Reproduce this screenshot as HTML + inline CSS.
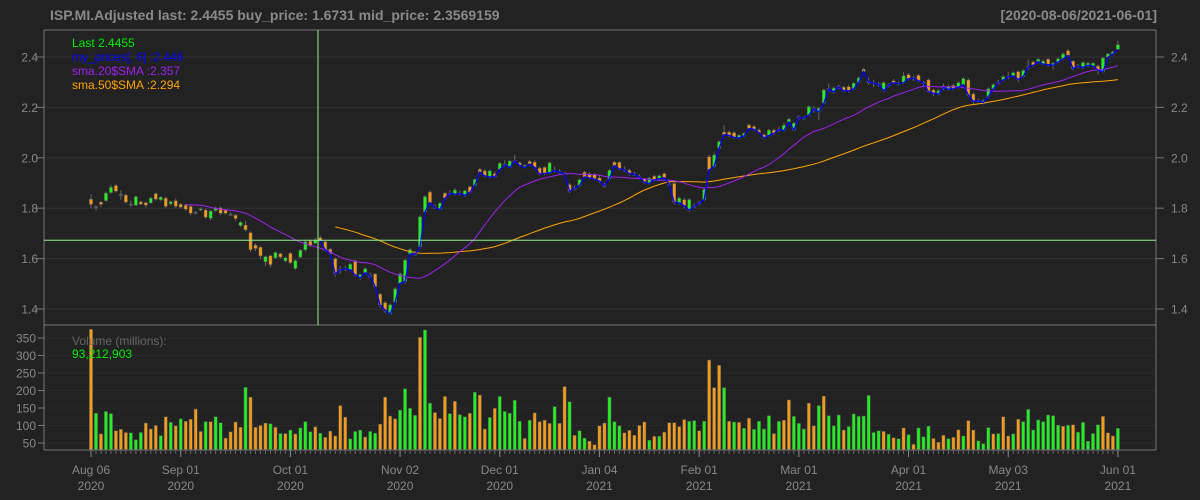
<!DOCTYPE html>
<html><head><meta charset="utf-8"><style>
html,body{margin:0;padding:0;background:#222222;}
svg{display:block;font-family:"Liberation Sans",sans-serif;}
</style></head><body>
<svg id="chart" width="1200" height="500" viewBox="0 0 1200 500">
<rect x="0" y="0" width="1200" height="500" fill="#222222"/>
<text x="50" y="20" fill="#8a8a8a" font-size="14" font-weight="bold">ISP.MI.Adjusted last: 2.4455 buy_price: 1.6731 mid_price: 2.3569159</text>
<text x="1157" y="20" fill="#8a8a8a" font-size="14" font-weight="bold" text-anchor="end">[2020-08-06/2021-06-01]</text>
<g id="grid"></g>
<g id="marks"></g>
<rect x="44" y="30" width="1112" height="295" fill="none" stroke="#777" stroke-width="1"/>
<rect x="44" y="325" width="1112" height="125" fill="none" stroke="#777" stroke-width="1"/>
<g id="axes"></g>
<line x1="318" y1="30" x2="318" y2="325" stroke="#90ee90" stroke-width="1"/>
<line x1="44" y1="240.3" x2="1156" y2="240.3" stroke="#90ee90" stroke-width="1"/>
<text x="72" y="47" fill="#00ee00" font-size="12">Last 2.4455</text>
<text x="72" y="61" fill="#0000ff" font-size="12">my_prices[, 6] :2.446</text>
<text x="72" y="75" fill="#a020f0" font-size="12">sma.20$SMA :2.357</text>
<text x="72" y="89" fill="#ffa500" font-size="12">sma.50$SMA :2.294</text>
<text x="72" y="345" fill="#666" font-size="12">Volume (millions):</text>
<text x="72" y="358" fill="#00ee00" font-size="12">93,212,903</text>
</svg>
<script>
const opens=[1.836,1.804,1.824,1.830,1.862,1.890,1.855,1.852,1.817,1.812,1.825,1.822,1.821,1.858,1.833,1.840,1.817,1.830,1.816,1.812,1.807,1.784,1.795,1.793,1.760,1.791,1.801,1.792,1.776,1.772,1.731,1.733,1.703,1.653,1.645,1.587,1.611,1.603,1.619,1.591,1.621,1.561,1.606,1.635,1.669,1.661,1.683,1.667,1.637,1.600,1.558,1.559,1.555,1.591,1.524,1.544,1.532,1.539,1.459,1.425,1.380,1.427,1.502,1.508,1.618,1.619,1.647,1.786,1.864,1.804,1.795,1.859,1.858,1.856,1.860,1.851,1.885,1.890,1.954,1.948,1.924,1.937,1.954,1.972,1.962,1.989,1.980,1.962,1.986,1.983,1.959,1.962,1.940,1.951,1.945,1.936,1.894,1.879,1.890,1.943,1.937,1.933,1.920,1.889,1.916,1.982,1.982,1.954,1.950,1.934,1.925,1.916,1.898,1.927,1.917,1.937,1.896,1.898,1.821,1.834,1.792,1.809,1.820,1.834,2.004,1.965,2.038,2.102,2.102,2.100,2.079,2.087,2.130,2.124,2.110,2.091,2.089,2.110,2.112,2.108,2.142,2.110,2.160,2.157,2.169,2.194,2.182,2.216,2.273,2.262,2.281,2.280,2.282,2.274,2.300,2.351,2.303,2.299,2.294,2.266,2.290,2.306,2.296,2.298,2.330,2.316,2.327,2.299,2.309,2.269,2.253,2.279,2.272,2.287,2.280,2.290,2.309,2.253,2.228,2.219,2.243,2.274,2.297,2.309,2.321,2.325,2.342,2.322,2.361,2.380,2.381,2.372,2.391,2.367,2.380,2.393,2.425,2.383,2.363,2.359,2.367,2.364,2.364,2.341,2.399,2.412,2.430];
const closes=[1.815,1.807,1.815,1.860,1.883,1.867,1.853,1.824,1.815,1.846,1.816,1.812,1.840,1.836,1.844,1.807,1.826,1.807,1.804,1.796,1.780,1.782,1.798,1.764,1.789,1.801,1.780,1.780,1.774,1.759,1.744,1.714,1.635,1.640,1.611,1.608,1.576,1.624,1.606,1.603,1.584,1.592,1.633,1.667,1.651,1.674,1.670,1.634,1.618,1.539,1.556,1.561,1.578,1.535,1.536,1.560,1.530,1.489,1.415,1.396,1.417,1.480,1.539,1.594,1.636,1.617,1.766,1.846,1.822,1.802,1.819,1.840,1.860,1.872,1.858,1.869,1.863,1.914,1.943,1.928,1.948,1.925,1.978,1.974,1.987,1.987,1.970,1.970,1.975,1.962,1.935,1.938,1.980,1.949,1.943,1.938,1.867,1.881,1.913,1.924,1.920,1.916,1.907,1.891,1.950,1.969,1.956,1.952,1.937,1.936,1.923,1.903,1.919,1.913,1.929,1.921,1.894,1.823,1.840,1.810,1.834,1.807,1.822,1.874,1.952,2.011,2.064,2.092,2.089,2.081,2.089,2.097,2.116,2.113,2.100,2.079,2.110,2.097,2.114,2.129,2.153,2.137,2.162,2.159,2.203,2.196,2.196,2.269,2.275,2.276,2.283,2.266,2.266,2.296,2.317,2.342,2.301,2.297,2.292,2.298,2.288,2.298,2.294,2.325,2.314,2.318,2.306,2.297,2.262,2.256,2.266,2.281,2.282,2.274,2.298,2.314,2.249,2.224,2.226,2.227,2.274,2.290,2.299,2.322,2.323,2.338,2.311,2.346,2.363,2.367,2.391,2.383,2.370,2.375,2.393,2.412,2.406,2.354,2.365,2.378,2.375,2.375,2.348,2.396,2.412,2.420,2.449];
const highs=[1.855,1.812,1.828,1.865,1.893,1.895,1.872,1.857,1.830,1.850,1.830,1.826,1.845,1.862,1.848,1.846,1.830,1.838,1.820,1.818,1.815,1.790,1.803,1.798,1.792,1.806,1.806,1.797,1.784,1.776,1.748,1.750,1.708,1.660,1.650,1.612,1.616,1.628,1.624,1.608,1.626,1.597,1.638,1.672,1.676,1.682,1.690,1.672,1.642,1.604,1.570,1.572,1.585,1.596,1.540,1.565,1.545,1.542,1.464,1.432,1.422,1.485,1.545,1.600,1.642,1.630,1.772,1.852,1.870,1.815,1.825,1.866,1.872,1.880,1.870,1.874,1.890,1.918,1.960,1.955,1.953,1.945,1.984,1.990,1.992,2.012,1.986,1.975,1.992,1.990,1.965,1.966,1.985,1.965,1.955,1.944,1.900,1.890,1.918,1.948,1.942,1.938,1.930,1.902,1.955,1.988,1.986,1.965,1.956,1.945,1.935,1.920,1.924,1.932,1.934,1.942,1.905,1.902,1.846,1.840,1.840,1.818,1.830,1.880,2.012,2.020,2.070,2.130,2.108,2.106,2.094,2.102,2.136,2.130,2.116,2.096,2.115,2.116,2.125,2.140,2.160,2.142,2.168,2.165,2.208,2.205,2.202,2.274,2.295,2.283,2.290,2.285,2.290,2.302,2.322,2.357,2.318,2.310,2.300,2.304,2.296,2.312,2.302,2.340,2.336,2.325,2.333,2.305,2.314,2.275,2.272,2.295,2.290,2.294,2.304,2.320,2.315,2.260,2.235,2.232,2.280,2.296,2.310,2.328,2.340,2.343,2.346,2.352,2.390,2.385,2.396,2.390,2.396,2.380,2.398,2.418,2.432,2.388,2.372,2.383,2.380,2.380,2.370,2.400,2.416,2.425,2.465];
const lows=[1.800,1.790,1.805,1.826,1.858,1.862,1.833,1.818,1.805,1.808,1.812,1.803,1.818,1.830,1.828,1.800,1.810,1.800,1.798,1.790,1.772,1.775,1.788,1.758,1.752,1.786,1.772,1.775,1.768,1.750,1.725,1.708,1.625,1.630,1.598,1.570,1.565,1.598,1.600,1.586,1.578,1.555,1.600,1.628,1.646,1.656,1.665,1.628,1.612,1.528,1.540,1.550,1.550,1.528,1.515,1.538,1.522,1.480,1.405,1.385,1.378,1.420,1.495,1.500,1.612,1.610,1.640,1.778,1.815,1.795,1.790,1.835,1.850,1.850,1.850,1.845,1.858,1.885,1.936,1.922,1.918,1.920,1.950,1.965,1.958,1.980,1.965,1.958,1.970,1.956,1.930,1.932,1.935,1.942,1.938,1.930,1.860,1.870,1.885,1.918,1.915,1.910,1.900,1.880,1.910,1.962,1.950,1.945,1.930,1.928,1.915,1.897,1.893,1.907,1.912,1.916,1.885,1.815,1.815,1.800,1.786,1.800,1.812,1.828,1.945,1.958,2.032,2.085,2.082,2.076,2.074,2.082,2.110,2.108,2.094,2.074,2.084,2.090,2.102,2.104,2.146,2.104,2.150,2.150,2.165,2.180,2.150,2.210,2.260,2.255,2.272,2.260,2.258,2.268,2.294,2.336,2.290,2.280,2.282,2.260,2.280,2.292,2.287,2.292,2.308,2.305,2.300,2.285,2.256,2.245,2.248,2.270,2.266,2.268,2.275,2.285,2.242,2.212,2.220,2.212,2.238,2.268,2.290,2.304,2.312,2.320,2.300,2.316,2.350,2.360,2.375,2.368,2.362,2.350,2.375,2.388,2.400,2.345,2.355,2.352,2.360,2.358,2.330,2.335,2.394,2.408,2.426];
const volumes=[375,135,76,140,134,85,89,80,79,59,80,107,90,100,71,125,109,99,119,112,118,147,83,111,111,125,108,64,82,110,95,209,181,95,100,107,105,95,77,77,87,76,93,111,82,96,78,66,84,70,157,124,62,83,87,67,83,78,104,181,127,119,144,205,149,129,352,373,164,137,120,183,134,169,131,125,135,195,187,90,123,149,183,140,135,172,112,63,115,136,111,115,106,154,106,211,168,72,85,64,55,45,99,107,181,111,99,79,86,72,100,110,58,69,69,81,108,108,97,117,112,114,85,112,287,208,272,208,112,110,109,92,121,89,112,90,128,77,112,115,173,126,106,90,164,99,157,184,128,99,130,87,97,133,126,127,186,80,85,83,75,65,62,93,74,46,93,68,98,63,52,72,62,66,88,70,114,87,56,48,94,76,77,125,70,76,118,111,146,87,116,111,130,128,101,98,101,102,81,109,55,77,102,126,79,70,92];
const volumeDirection="ogoggooogggooogogogoooogoggoooogoooogogogogggogooooogggoggooooggggoggooogoggogoogogggggogoooogoogoggoooogggooooogogoooooggogooogogogoggggogoogggoogogggogggggggogogogogggooogoogoogggogoogoggggggggogogggggooogogooggggg";
const xLabels=["Aug 06","Sep 01","Oct 01","Nov 02","Dec 01","Jan 04","Feb 01","Mar 01","Apr 01","May 03","Jun 01"];
const xLabelYears=["2020","2020","2020","2020","2020","2021","2021","2021","2021","2021","2021"];
const xLabelBars=[0,18,40,62,82,102,122,142,164,184,206];
const priceTicks=[1.4,1.6,1.8,2.0,2.2,2.4];
const volumeTicks=[50,100,150,200,250,300,350];

const NS="http://www.w3.org/2000/svg";
const X0=91, DX=4.985;
function xPos(i){return X0+DX*i;}
function yPrice(p){return 309-(p-1.4)*252;}
function yVol(v){return 443-(v-50)*17.5/50;}
function mk(tag,attrs,parent){const e=document.createElementNS(NS,tag);for(const k in attrs)e.setAttribute(k,attrs[k]);parent.appendChild(e);return e;}
const grid=document.getElementById('grid'), marks=document.getElementById('marks'), axes=document.getElementById('axes');

priceTicks.forEach(function(t){
  const y=yPrice(t);
  const g=mk('line',{x1:44,x2:1156,y1:y,y2:y,stroke:'#333',"stroke-width":1},grid);
  
  
  [[36,44,'end',38],[1156,1164,'start',1171]].forEach(function(s){
    const tk=mk('line',{x1:s[0],x2:s[1],y1:y,y2:y,stroke:'#777'},axes);
    
    
    const lb=mk('text',{x:s[3],y:y+4.5,fill:'#888','font-size':12,'text-anchor':s[2]},axes);
    lb.textContent=t.toFixed(1);
    
    
  });
});
volumeTicks.forEach(function(t){
  const y=yVol(t);
  const g=mk('line',{x1:44,x2:1156,y1:y,y2:y,stroke:'#303030','stroke-dasharray':'2,2'},grid);
  
  
  const tk=mk('line',{x1:38,x2:44,y1:y,y2:y,stroke:'#777'},axes);
  
  
  const lb=mk('text',{x:36,y:y+4.5,fill:'#888','font-size':12,'text-anchor':'end'},axes);
  lb.textContent=String(t);
  
  
});
for(let i=0;i<closes.length;i++){
  const tk=mk('line',{x1:xPos(i),x2:xPos(i),y1:450,y2:454,stroke:'#666'},axes);
  
  
}
xLabels.forEach(function(l,k){
  const x=xPos(xLabelBars[k]);
  const tk=mk('line',{x1:x,x2:x,y1:450,y2:457,stroke:'#888'},axes);
  
  
  const t1=mk('text',{x:x,y:474,fill:'#888','font-size':12,'text-anchor':'middle'},axes);
  t1.textContent=l;
  
  
  const t2=mk('text',{x:x,y:490,fill:'#888','font-size':12,'text-anchor':'middle'},axes);
  t2.textContent=xLabelYears[k];
  
  
});

volumes.forEach(function(v,i){
  const y=yVol(v);
  const r=mk('rect',{x:xPos(i)-1.6,y:y,width:3.2,height:449.5-y,fill:volumeDirection[i]==='g'?'#22ee22':'#f39c1c',stroke:'#555','stroke-width':0.5},marks);
  
  
});

for(let i=0;i<closes.length;i++){
  const x=xPos(i), o=opens[i], c=closes[i];
  const w=mk('line',{x1:x,x2:x,y1:yPrice(highs[i]),y2:yPrice(lows[i]),stroke:'#666','stroke-width':1},marks);
  
  
  const top=yPrice(Math.max(o,c)), bot=yPrice(Math.min(o,c));
  const doji=Math.abs(o-c)<0.003;
  const fill=doji?'#666':(c>o?'#22ee22':'#f39c1c');
  const b=mk('rect',{x:x-1.6,y:top,width:3.2,height:Math.max(1.2,bot-top),fill:fill,stroke:'#555','stroke-width':0.5},marks);
  
  
}

function sma(src,n){const out=[];for(let i=0;i<src.length;i++){if(i<n-1){out.push(null);continue;}let s=0;for(let k=i-n+1;k<=i;k++)s+=src[k];out.push(s/n);}return out;}
function linePath(vals,start){let d='';for(let i=start;i<vals.length;i++){if(vals[i]==null)continue;d+=(d?'L':'M')+xPos(i).toFixed(1)+','+yPrice(vals[i]).toFixed(1);}return d;}
const sma20=sma(lows,20), sma50=sma(lows,50);
const p50=mk('path',{d:linePath(sma50,0),fill:'none',stroke:'#ffa500','stroke-width':1},marks);


const p20=mk('path',{d:linePath(sma20,0),fill:'none',stroke:'#a020f0','stroke-width':1},marks);


const bodyLow=closes.map(function(c,i){return Math.min(c,opens[i]);});
const pb=mk('path',{d:linePath(bodyLow,46),fill:'none',stroke:'#0000ff','stroke-width':1.3},marks);


</script>
</body></html>
